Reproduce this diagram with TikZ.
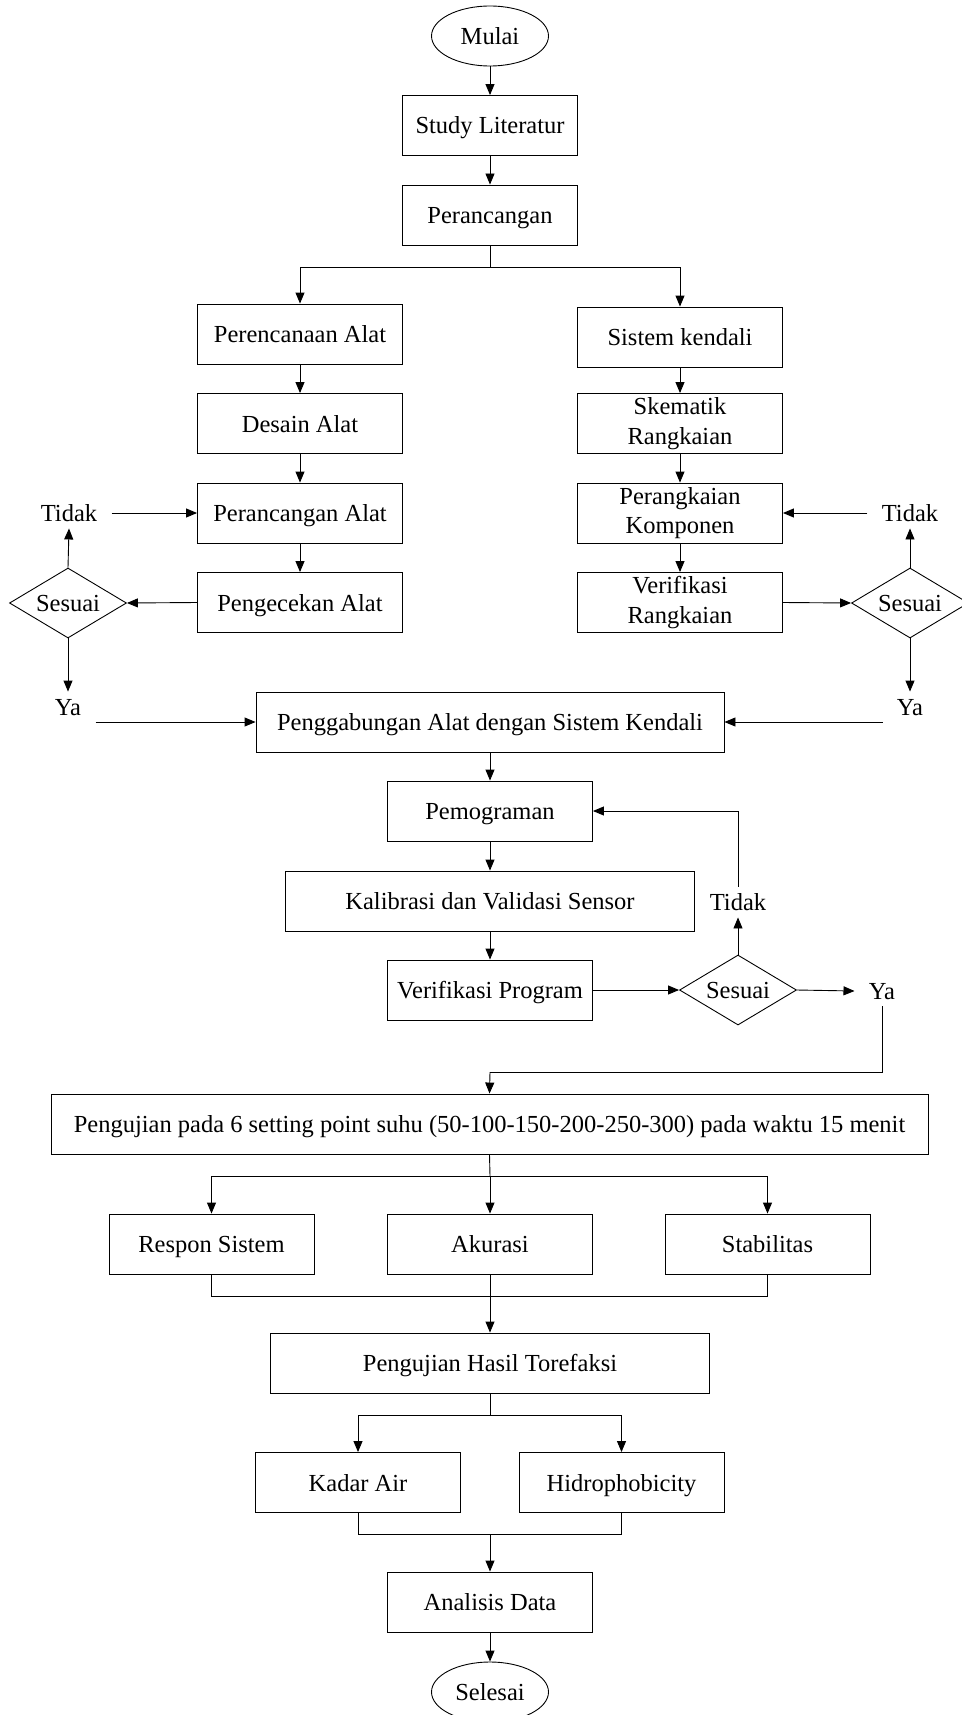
\documentclass[tikz,border=0pt]{standalone}
\usepackage{fontspec}
\setmainfont{Liberation Serif}
\usetikzlibrary{shapes.geometric,arrows.meta,calc}
\begin{document}
\begin{tikzpicture}[x=1pt,y=-1pt,
  font=\fontsize{24.5}{29.5}\selectfont,
  every path/.style={line width=0.9pt},
  box/.style={draw, rectangle, minimum height=60pt, inner sep=0pt, align=center, text height=19.5pt, text depth=2.5pt},
  two/.style={text height=, text depth=},
  w205/.style={box, minimum width=205pt},
  term/.style={draw, ellipse, minimum width=117pt, minimum height=60pt, inner sep=0pt, text height=19.5pt, text depth=2.5pt},
  dec/.style={draw, diamond, shape aspect=1.67, minimum width=117pt, minimum height=70pt, inner sep=0pt, text height=19.5pt, text depth=2.5pt},
  lbl/.style={inner xsep=14pt, inner ysep=4pt, text height=19.5pt, text depth=2.5pt},
  arr/.style={-{Triangle[length=11pt,width=9pt]}}
]
\useasboundingbox (0,0) rectangle (961,1715);
% nodes
\node[term] (mulai) at (490,36) {Mulai};
\node[box, minimum width=175pt] (study) at (490,125.5) {Study Literatur};
\node[box, minimum width=175pt] (peranc) at (490,215) {Perancangan};
\node[w205] (perenc) at (300,334) {Perencanaan Alat};
\node[w205] (sisk) at (680,337) {Sistem kendali};
\node[w205] (desain) at (300,423.5) {Desain Alat};
\node[w205, two] (skem) at (680,423.5) {Skematik\\Rangkaian};
\node[w205] (pra) at (300,513) {Perancangan Alat};
\node[w205, two] (pk) at (680,513) {Perangkaian\\Komponen};
\node[w205] (pengec) at (300,602.5) {Pengecekan Alat};
\node[w205, two] (verr) at (680,602.5) {Verifikasi\\Rangkaian};
\node[dec] (d1) at (68,603) {Sesuai};
\node[dec] (d2) at (910,603) {Sesuai};
\node[lbl] (tidL) at (69,513) {Tidak};
\node[lbl] (yaL) at (68,707) {Ya};
\node[lbl] (tidR) at (910,513) {Tidak};
\node[lbl] (yaR) at (910,707) {Ya};
\node[box, minimum width=468pt] (pgab) at (490,722) {Penggabungan Alat dengan Sistem Kendali};
\node[w205] (pemo) at (490,811) {Pemograman};
\node[box, minimum width=409pt] (kal) at (490,901) {Kalibrasi dan Validasi Sensor};
\node[w205] (verp) at (490,990) {Verifikasi Program};
\node[dec] (d3) at (738,990) {Sesuai};
\node[lbl] (tid3) at (738,902) {Tidak};
\node[lbl] (ya3) at (882,991) {Ya};
\node[box, minimum width=877pt] (pengu) at (489.5,1124) {Pengujian pada 6 setting point suhu (50-100-150-200-250-300) pada waktu 15 menit};
\node[w205] (resp) at (211.5,1244) {Respon Sistem};
\node[w205] (aku) at (490,1244) {Akurasi};
\node[w205] (stab) at (767.5,1244) {Stabilitas};
\node[box, minimum width=439pt] (peht) at (490,1363) {Pengujian Hasil Torefaksi};
\node[w205] (kadar) at (358,1482.5) {Kadar Air};
\node[w205] (hidro) at (621.5,1482.5) {Hidrophobicity};
\node[w205] (anal) at (490,1602) {Analisis Data};
\node[term] (selesai) at (490,1692) {Selesai};
% junction coordinates
\coordinate (b1) at (490,267);
\coordinate (j3) at (490,1072);
\coordinate (b2) at (490,1176);
\coordinate (m1) at (490,1296);
\coordinate (b3) at (490,1415);
\coordinate (m2) at (490,1534);
% connectors
\draw[arr] (mulai) -- (study);
\draw[arr] (study) -- (peranc);
\draw (peranc.south) -- (b1);
\draw[arr] (b1) -| (perenc.north);
\draw[arr] (b1) -| (sisk.north);
\draw[arr] (perenc) -- (desain);
\draw[arr] (desain) -- (pra);
\draw[arr] (pra) -- (pengec);
\draw[arr] (sisk) -- (skem);
\draw[arr] (skem) -- (pk);
\draw[arr] (pk) -- (verr);
\draw[arr] (pengec.west) -- (d1.east);
\draw[arr] (d1.north) -- (tidL.south);
\draw[arr] (tidL.east) -- (pra.west);
\draw[arr] (d1.south) -- (yaL.north);
\draw[arr] (yaL.south east |- pgab.west) -- (pgab.west);
\draw[arr] (verr.east) -- (d2.west);
\draw[arr] (d2.north) -- (tidR.south);
\draw[arr] (tidR.west) -- (pk.east);
\draw[arr] (d2.south) -- (yaR.north);
\draw[arr] (yaR.south west |- pgab.east) -- (pgab.east);
\draw[arr] (pgab) -- (pemo);
\draw[arr] (pemo) -- (kal);
\draw[arr] (kal) -- (verp);
\draw[arr] (verp.east) -- (d3.west);
\draw[arr] (d3.north) -- (tid3.south);
\draw[arr] (tid3.north) |- (pemo.east);
\draw[arr] (d3.east) -- (ya3.west);
\draw (ya3.south) |- (j3);
\draw[arr] (j3) -- (pengu.north);
\draw (pengu.south) -- (b2);
\draw[arr] (b2) -| (resp.north);
\draw[arr] (b2) -- (aku.north);
\draw[arr] (b2) -| (stab.north);
\draw (resp.south) |- (m1);
\draw (stab.south) |- (m1);
\draw (aku.south) -- (m1);
\draw[arr] (m1) -- (peht.north);
\draw (peht.south) -- (b3);
\draw[arr] (b3) -| (kadar.north);
\draw[arr] (b3) -| (hidro.north);
\draw (kadar.south) |- (m2);
\draw (hidro.south) |- (m2);
\draw[arr] (m2) -- (anal.north);
\draw[arr] (anal) -- (selesai);
\end{tikzpicture}
\end{document}
